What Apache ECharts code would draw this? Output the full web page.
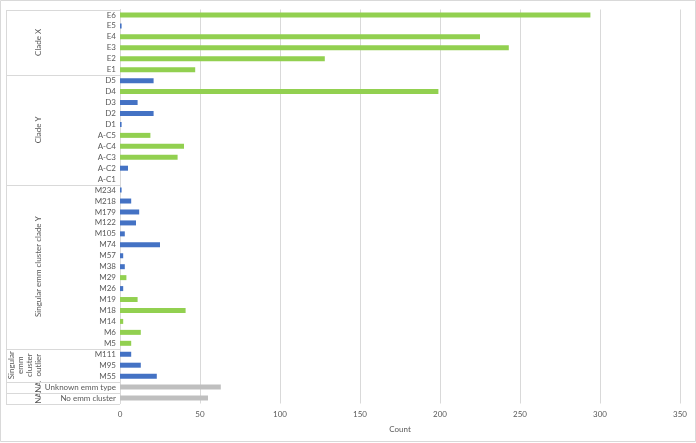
<!DOCTYPE html>
<html lang="en">
<head>
  <meta charset="UTF-8">
  <title>emm counts</title>
  <style>
    html, body { margin: 0; padding: 0; background: #fff; }
    #main { width: 696px; height: 443px; }
  </style>
</head>
<body>
  <div id="main"></div>
  <script src="https://cdn.jsdelivr.net/npm/echarts@6/dist/echarts.min.js"></script>
  <script>
    // categories top to bottom
    var categories = ['E6', 'E5', 'E4', 'E3', 'E2', 'E1',
      'D5', 'D4', 'D3', 'D2', 'D1', 'A-C5', 'A-C4', 'A-C3', 'A-C2', 'A-C1',
      'M234', 'M218', 'M179', 'M122', 'M105', 'M74', 'M57', 'M38', 'M29', 'M26', 'M19', 'M18', 'M14', 'M6', 'M5',
      'M111', 'M95', 'M55',
      'Unknown emm type', 'No emm cluster'];
    var counts = [294, 1, 225, 243, 128, 47,
      21, 199, 11, 21, 1, 19, 40, 36, 5, 0,
      1, 7, 12, 10, 3, 25, 2, 3, 4, 2, 11, 41, 2, 13, 7,
      7, 13, 23,
      63, 55];
    // which series each bar belongs to
    var kinds = ['g', 'b', 'g', 'g', 'g', 'g',
      'b', 'g', 'b', 'b', 'b', 'g', 'g', 'g', 'b', 'b',
      'b', 'b', 'b', 'b', 'b', 'b', 'b', 'b', 'g', 'b', 'g', 'g', 'g', 'g', 'g',
      'b', 'b', 'b',
      'n', 'n'];
    // outer level of the category axis
    var groupNames = ['Clade X', 'Clade Y', 'Singular emm cluster clade Y', 'Singular\nemm\ncluster\noutlier', 'NA', 'NA'];
    var groupSizes = [6, 10, 15, 3, 1, 1];
    var xTicks = [0, 50, 100, 150, 200, 250, 300, 350];

    var textColor = '#595959';
    var lineColor = '#D9D9D9';
    var font = 'Lato, "Liberation Sans", sans-serif';
    var W = 696, H = 443;
    var gridTop = 9.5, gridBottom = 39.5, gridLeft = 120;

    function pick(k) {
      return counts.map(function (v, i) { return kinds[i] === k ? v : 0; });
    }

    // outer level: separators + rotated group names, placed on the category bands
    var band = (H - gridTop - gridBottom) / categories.length;
    var gfx = [{
      type: 'rect',
      silent: true,
      shape: { x: 0.5, y: 0.5, width: W - 1, height: H - 2 },
      style: { fill: 'none', stroke: lineColor, lineWidth: 1 }
    }];
    var start = 0;
    var edges = [gridTop];
    groupSizes.forEach(function (n, g) {
      var yA = gridTop + start * band;
      var yB = gridTop + (start + n) * band;
      edges.push(yB);
      var multi = groupNames[g].indexOf('\n') >= 0;
      gfx.push({
        type: 'text',
        silent: true,
        x: multi ? 25 : 38,
        y: (yA + yB) / 2,
        rotation: Math.PI / 2,
        style: {
          text: groupNames[g],
          fill: textColor,
          fontSize: 8,
          fontFamily: font,
          align: 'center',
          verticalAlign: 'middle',
          lineHeight: 9
        }
      });
      start += n;
    });
    edges.forEach(function (y) {
      var yy = Math.round(y) + 0.5;
      gfx.push({
        type: 'line',
        silent: true,
        shape: { x1: 6, y1: yy, x2: gridLeft, y2: yy },
        style: { stroke: lineColor, lineWidth: 1 }
      });
    });
    gfx.push({
      type: 'line',
      silent: true,
      shape: { x1: 6.5, y1: Math.round(edges[0]) + 0.5, x2: 6.5, y2: Math.round(edges[edges.length - 1]) + 0.5 },
      style: { stroke: lineColor, lineWidth: 1 }
    });

    var chart = echarts.init(document.getElementById('main'));
    var option = {
      animation: false,
      grid: { left: gridLeft, right: 16, top: gridTop, bottom: gridBottom },
      graphic: gfx,
      xAxis: {
        type: 'value',
        min: xTicks[0],
        max: xTicks[xTicks.length - 1],
        interval: 50,
        name: 'Count',
        nameLocation: 'middle',
        nameGap: 22,
        nameTextStyle: { color: textColor, fontSize: 8, fontFamily: font },
        axisLine: { show: false },
        axisTick: { show: false },
        axisLabel: { color: textColor, fontSize: 8, fontFamily: font, margin: 7 },
        splitLine: { lineStyle: { color: lineColor, width: 1 } }
      },
      yAxis: {
        type: 'category',
        inverse: true,
        data: categories,
        axisLine: { show: true, lineStyle: { color: lineColor } },
        axisTick: { show: false },
        axisLabel: { color: textColor, fontSize: 8, fontFamily: font, margin: 4, interval: 0 }
      },
      series: [
        { type: 'bar', stack: 'all', barWidth: 5, data: pick('g'), itemStyle: { color: '#92D050' } },
        { type: 'bar', stack: 'all', barWidth: 5, data: pick('b'), itemStyle: { color: '#4472C4' } },
        { type: 'bar', stack: 'all', barWidth: 5, data: pick('n'), itemStyle: { color: '#BFBFBF' } }
      ]
    };
    chart.setOption(option);
  </script>
</body>
</html>
